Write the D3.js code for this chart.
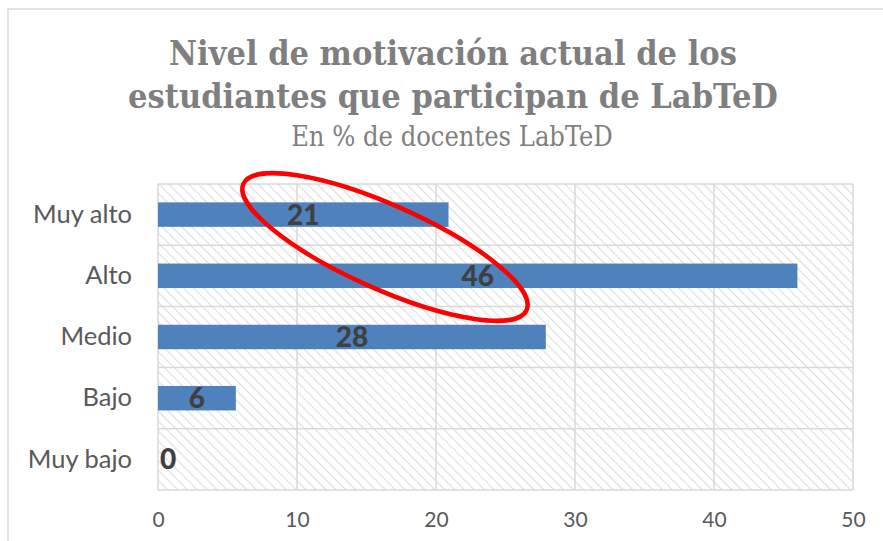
<!DOCTYPE html>
<html><head><meta charset="utf-8">
<script src="https://cdn.jsdelivr.net/npm/d3@7"></script>
<style>html,body{margin:0;padding:0;background:#fff;}svg{display:block;}</style>
</head><body>
<svg id="c" width="883" height="541"></svg>
<script>
const categories = ["Muy alto", "Alto", "Medio", "Bajo", "Muy bajo"];
const values = [20.9, 46.0, 27.9, 5.6, 0];
const xTicks = [0, 10, 20, 30, 40, 50];
const titleLines = ["Nivel de motivación actual de los", "estudiantes que participan de LabTeD"];
const subtitle = "En % de docentes LabTeD";

const svg = d3.select("#c");
const W = 883, H = 541;
const m = {left: 158, right: 30, top: 184, bottom: 51};
const pw = W - m.left - m.right, ph = H - m.top - m.bottom;

// chart frame
svg.append("rect").attr("x", 8).attr("y", 9).attr("width", 890).attr("height", 560)
  .attr("fill", "#fff").attr("stroke", "#d9d9d9").attr("stroke-width", 1.5);

// hatch pattern
const defs = svg.append("defs");
const pat = defs.append("pattern").attr("id", "hatch").attr("patternUnits", "userSpaceOnUse")
  .attr("width", 7).attr("height", 7).attr("patternTransform", "rotate(-45)");
pat.append("rect").attr("width", 7).attr("height", 7).attr("fill", "#fff");
pat.append("line").attr("x1", 0).attr("y1", 0).attr("x2", 0).attr("y2", 7)
  .attr("stroke", "#dedede").attr("stroke-width", 2.2);

const x = d3.scaleLinear().domain([0, 50]).range([0, pw]);
const y = d3.scaleBand().domain(categories).range([0, ph]).paddingInner(0.6).paddingOuter(0.3);

const g = svg.append("g").attr("transform", `translate(${m.left},${m.top})`);
g.append("rect").attr("width", pw).attr("height", ph).attr("fill", "url(#hatch)");

// gridlines
g.selectAll(".vg").data(xTicks).join("line")
  .attr("x1", d => x(d)).attr("x2", d => x(d)).attr("y1", 0).attr("y2", ph)
  .attr("stroke", "#d9d9d9").attr("stroke-width", 1.5);
const step = ph / categories.length;
g.selectAll(".hg").data(d3.range(categories.length + 1)).join("line")
  .attr("x1", 0).attr("x2", pw).attr("y1", d => d * step).attr("y2", d => d * step)
  .attr("stroke", "#d9d9d9").attr("stroke-width", 1.5);

// bars
g.selectAll(".bar").data(values).join("rect")
  .attr("x", x(0)).attr("y", (d, i) => y(categories[i]))
  .attr("width", d => x(d)).attr("height", y.bandwidth())
  .attr("fill", "#4f81bd");

// bar labels
g.selectAll(".lbl").data(values).join("text")
  .attr("x", d => Math.max(x(d) / 2, 2))
  .attr("text-anchor", d => x(d) / 2 < 10 ? "start" : "middle")
  .attr("y", (d, i) => y(categories[i]) + y.bandwidth() / 2)
  .attr("dy", "0.36em")
  .attr("font-family", "Lato, 'Open Sans', sans-serif").attr("font-weight", 900)
  .attr("font-size", 28).attr("fill", "#404040")
  .text(d => Math.round(d));

// y axis labels
const yAxis = d3.axisLeft(y).tickSize(0).tickPadding(26);
const ya = g.append("g").call(yAxis);
ya.select(".domain").remove();
ya.selectAll("text").attr("font-family", "Lato, 'Open Sans', sans-serif")
  .attr("font-size", 25.5).attr("fill", "#595959");

// x axis labels
const xAxis = d3.axisBottom(x).tickValues(xTicks).tickSize(0).tickPadding(22);
const xa = g.append("g").attr("transform", `translate(0,${ph})`).call(xAxis);
xa.select(".domain").remove();
xa.selectAll("text").attr("font-family", "Lato, 'Open Sans', sans-serif")
  .attr("font-size", 21).attr("fill", "#595959");

// titles
svg.selectAll(".t").data(titleLines).join("text")
  .attr("x", 453).attr("y", (d, i) => 65 + i * 43)
  .attr("text-anchor", "middle")
  .attr("font-family", "'DejaVu Serif Condensed', 'DejaVu Serif', serif").attr("font-weight", "bold")
  .attr("font-size", 34).attr("fill", "#7f7f7f")
  .text(d => d);
svg.append("text").attr("x", 452).attr("y", 146).attr("text-anchor", "middle")
  .attr("font-family", "'DejaVu Serif Condensed', 'DejaVu Serif', serif").attr("font-size", 27).attr("fill", "#7f7f7f")
  .text(subtitle);

// red ellipse highlight
svg.append("ellipse").attr("cx", 385).attr("cy", 247).attr("rx", 155).attr("ry", 42)
  .attr("transform", "rotate(24 385 247)")
  .attr("fill", "none").attr("stroke", "#ff0000").attr("stroke-width", 4.5);
</script>
</body></html>
